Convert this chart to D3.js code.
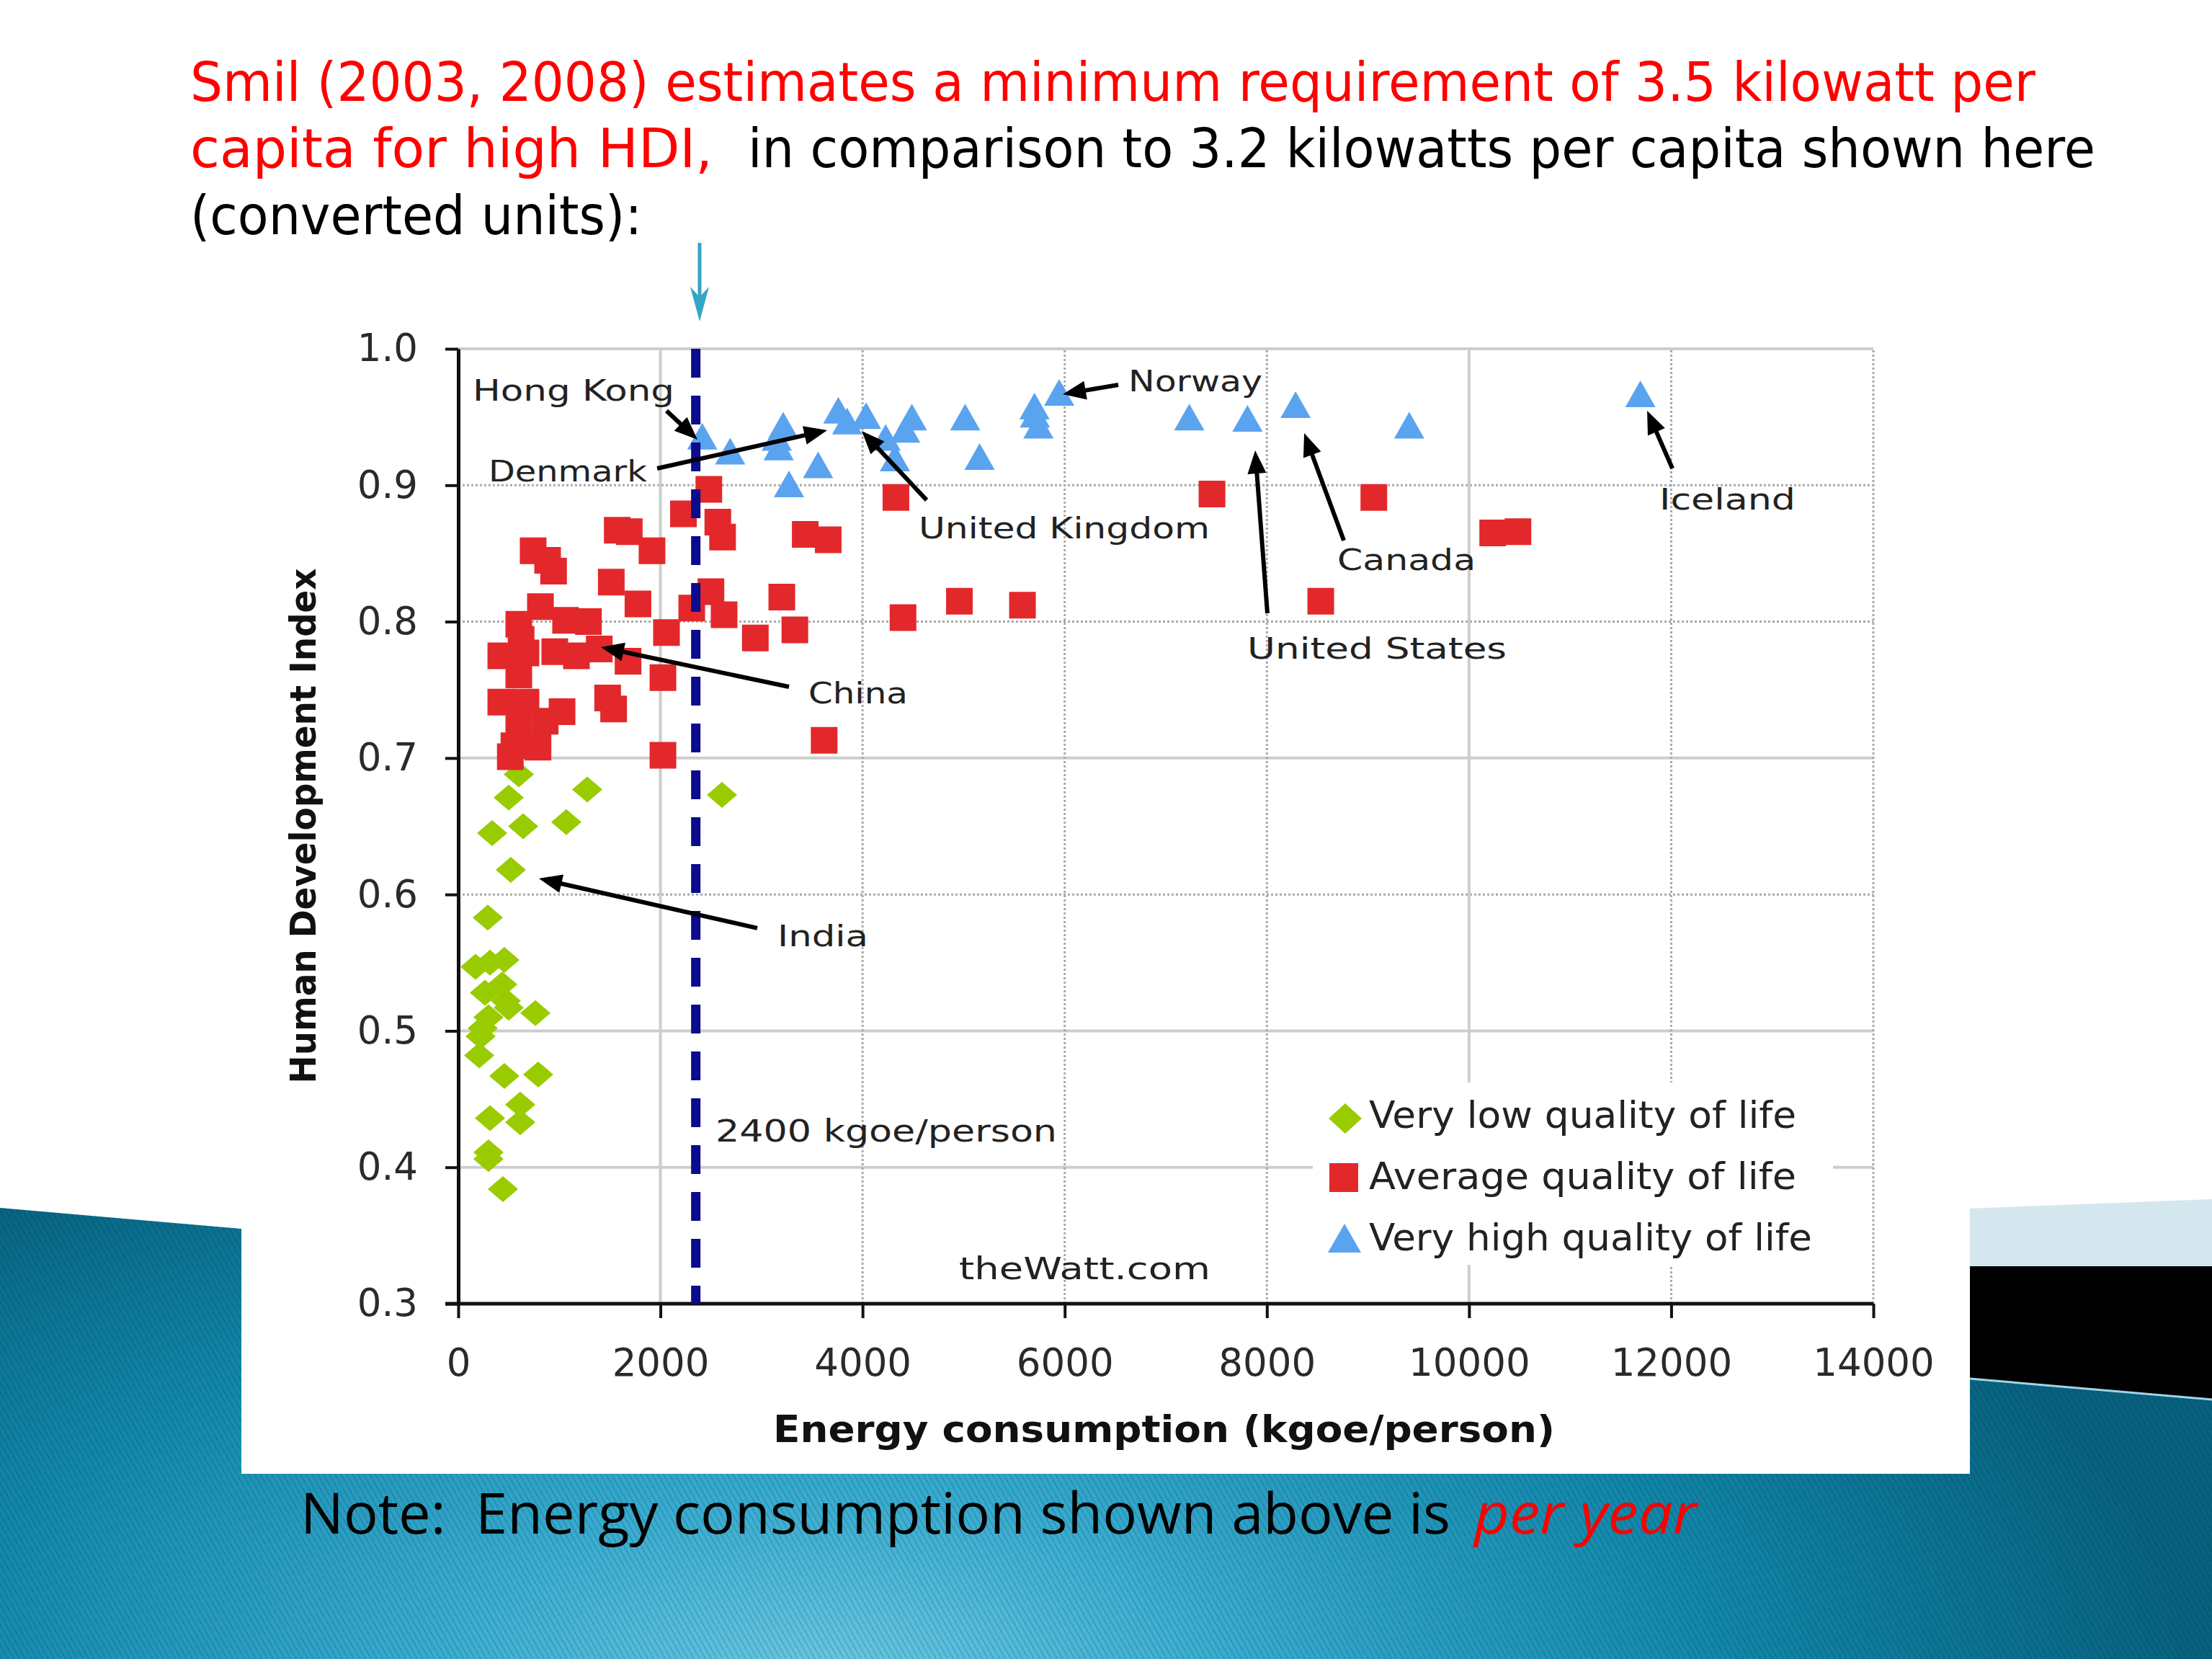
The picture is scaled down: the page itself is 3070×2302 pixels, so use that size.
<!DOCTYPE html>
<html><head><meta charset="utf-8">
<script src="https://cdn.jsdelivr.net/npm/d3@7"></script>
<style>html,body{margin:0;padding:0;background:#fff;overflow:hidden}svg{display:block}</style>
</head><body>
<svg id="c" width="3070" height="2302"></svg>
<script>
// ---------------- DATA ----------------
const xTicks = [0, 2000, 4000, 6000, 8000, 10000, 12000, 14000];
const yTicks = [0.3, 0.4, 0.5, 0.6, 0.7, 0.8, 0.9, 1.0];
const seriesNames = ["Very low quality of life", "Average quality of life", "Very high quality of life"];

// [energy kgoe/person, HDI]
const veryLow = [[599,0.688],[499,0.671],[1276,0.677],[335,0.645],[642,0.650],[1069,0.653],[2609,0.673],
  [520,0.618],[292,0.583],[171,0.547],[314,0.550],[456,0.552],[435,0.534],[264,0.528],[470,0.522],
  [499,0.517],[763,0.513],[299,0.510],[242,0.502],[221,0.496],[207,0.482],[456,0.467],[791,0.468],
  [613,0.446],[314,0.436],[613,0.433],[299,0.411],[299,0.406],[442,0.384]];

const average = [[2479,0.897],[2228,0.879],[2568,0.873],[2615,0.862],
  [1573,0.867],[1692,0.866],[1917,0.852],[741,0.852],[884,0.845],[943,0.837],
  [1514,0.829],[1778,0.813],[3201,0.818],[2500,0.822],[2310,0.810],[2630,0.805],[2939,0.788],[3330,0.794],[2060,0.792],
  [813,0.811],[1062,0.801],[1288,0.800],[1395,0.780],[1680,0.771],[2025,0.759],[1478,0.744],[1537,0.736],[2025,0.702],
  [599,0.798],[622,0.787],[421,0.775],[670,0.777],[955,0.778],[1169,0.775],[599,0.761],[421,0.741],[670,0.741],
  [1027,0.734],[599,0.726],[860,0.727],[551,0.709],[789,0.708],[515,0.701],
  [3433,0.864],[3660,0.860],[4330,0.891],[4400,0.803],[4958,0.815],[5582,0.812],[7457,0.8935],[8533,0.815],
  [9058,0.891],[10234,0.865],[10484,0.866],[3620,0.713]];

const veryHigh = [[2414,0.936],[2690,0.925],[3151,0.935],[3215,0.944],[3170,0.928],[3272,0.901],[3560,0.915],
  [3760,0.955],[3847,0.947],[4035,0.951],[4228,0.935],[4320,0.920],[4421,0.941],[4488,0.950],[5015,0.950],
  [5158,0.921],[5705,0.952],[5740,0.944],[5701,0.958],[5945,0.968],[7232,0.950],[7808,0.949],[8284,0.959],
  [9408,0.944],[11695,0.967]];

const thresholdValue = 2350;          // dashed reference line (labelled 2400 kgoe/person)
const thresholdLabel = "2400 kgoe/person";

// annotation labels: [text, energy, HDI] (left/baseline anchor, data units)
const labelTexts = ["Hong Kong","Denmark","United Kingdom","Norway","Canada","United States","Iceland","China","India"];
const labelAt = [[143,0.962],[299,0.903],[4555,0.861],[6630,0.969],[8697,0.838],[7806,0.773],[11883,0.882],[3464,0.740],[3158,0.562]];
// arrows: [from energy, from HDI, to energy, to HDI]
const arrowsData = [[2060,0.9546,2367,0.9334],[1968,0.9123,3650,0.9403],[4634,0.8891,3992,0.9398],
  [6530,0.9736,5981,0.9667],[8005,0.8061,7884,0.9255],[8761,0.8595,8369,0.9382],[12012,0.9123,11762,0.9546],
  [3272,0.7522,1411,0.7813],[2958,0.5753,798,0.6117]];

// ---------------- DRAW ----------------
const svg = d3.select("#c");
const defs = svg.append("defs");

const rg = defs.append("radialGradient").attr("id","bg").attr("gradientUnits","userSpaceOnUse")
  .attr("cx",1150).attr("cy",2330).attr("r",1900)
  .attr("gradientTransform","translate(1150,2330) scale(1,0.45) translate(-1150,-2330)");
[[0,"#6cc8e2"],[0.3,"#38abcf"],[0.65,"#1287aa"],[1,"#07617e"]].forEach(s=>rg.append("stop").attr("offset",s[0]).attr("stop-color",s[1]));

const pat = defs.append("pattern").attr("id","stripes").attr("patternUnits","userSpaceOnUse").attr("width",8).attr("height",14);
pat.append("path").attr("d","M0,0L8,14M-8,0L0,14M8,0L16,14").attr("stroke","rgba(0,35,55,0.2)").attr("stroke-width",1.6);

// slide decoration
svg.append("polygon").attr("points","2000,1705 3070,1664 3070,1757 2000,1757").attr("fill","#d5e7ee");
svg.append("polygon").attr("points","2000,1757 3070,1757 3070,1960 2000,1960").attr("fill","#000");
const tealPts = "0,1676 3070,1942 3070,2302 0,2302";
svg.append("polygon").attr("points",tealPts).attr("fill","url(#bg)");
svg.append("polygon").attr("points",tealPts).attr("fill","url(#stripes)");
svg.append("line").attr("x1",2734).attr("y1",1913).attr("x2",3070).attr("y2",1942).attr("stroke","#9fd6e8").attr("stroke-width",3);

// chart image white background
svg.append("rect").attr("x",335).attr("y",360).attr("width",2399).attr("height",1685).attr("fill","#fff");

// Title
const tFont = "'DejaVu Sans', 'Noto Sans', sans-serif";
const nFont = "'Open Sans', 'Noto Sans', sans-serif";
function ttext(str, x0, y0, len, color){
  return svg.append("text").attr("x",x0).attr("y",y0).attr("font-family",tFont).attr("font-size",74)
    .attr("fill",color).attr("textLength",len).attr("lengthAdjust","spacingAndGlyphs").style("white-space","pre").text(str);
}
ttext("Smil (2003, 2008) estimates a minimum requirement of 3.5 kilowatt per", 264, 140, 2561, "#ff0000");
ttext("capita for high HDI,", 264, 232, 725, "#ff0000");
ttext("in comparison to 3.2 kilowatts per capita shown here", 1038, 232, 1870, "#000");
ttext("(converted units):", 264, 325, 627, "#000");

// cyan arrow
svg.append("line").attr("x1",971).attr("y1",337).attr("x2",971).attr("y2",415).attr("stroke","#35a5c6").attr("stroke-width",5);
svg.append("path").attr("d","M958,398 L971,446 L984,398 L971,412 Z").attr("fill","#35a5c6");

// Note
svg.append("text").attr("x",417).attr("y",2128).attr("font-family",nFont).attr("font-size",78).attr("fill","#000")
  .attr("textLength",1596).attr("lengthAdjust","spacingAndGlyphs").style("white-space","pre")
  .text("Note:  Energy consumption shown above is");
svg.append("text").attr("x",2046).attr("y",2128).attr("font-family",nFont).attr("font-size",78).attr("fill","#ff0000")
  .attr("font-style","italic").attr("textLength",309).attr("lengthAdjust","spacingAndGlyphs").text("per year");

// scales
const x = d3.scaleLinear().domain([0,14000]).range([636,2600]);
const y = d3.scaleLinear().domain([0.3,1.0]).range([1809,484]);
const cFont = "'DejaVu Sans', Verdana, sans-serif";

// gridlines
const solidY = new Set([1.0,0.7,0.5,0.4]);
const solidX = new Set([2000,10000]);
const grid = svg.append("g");
yTicks.filter(d=>d>0.3).forEach(d=>{
  const s = solidY.has(d);
  grid.append("line").attr("x1",x(0)).attr("x2",x(14000)).attr("y1",y(d)).attr("y2",y(d))
    .attr("stroke",s?"#cdcdcd":"#a9a9a9").attr("stroke-width",s?4:3).attr("stroke-dasharray",s?null:"3,3");
});
xTicks.filter(d=>d>0).forEach(d=>{
  const s = solidX.has(d);
  grid.append("line").attr("y1",y(0.3)).attr("y2",y(1.0)).attr("x1",x(d)).attr("x2",x(d))
    .attr("stroke",s?"#cdcdcd":"#a9a9a9").attr("stroke-width",s?4:3).attr("stroke-dasharray",s?null:"3,3");
});

// legend box (white, hides grid)
svg.append("rect").attr("x",1822).attr("y",1502).attr("width",722).attr("height",253).attr("fill","#fff");

// axes
const yAxis = svg.append("g").attr("transform",`translate(${x(0)},0)`)
  .call(d3.axisLeft(y).tickValues(yTicks).tickSize(18).tickSizeOuter(0).tickPadding(38).tickFormat(d3.format(".1f")));
const xAxis = svg.append("g").attr("transform",`translate(0,${y(0.3)})`)
  .call(d3.axisBottom(x).tickValues(xTicks).tickSize(20).tickSizeOuter(0).tickPadding(42).tickFormat(d3.format("d")));
[yAxis,xAxis].forEach(a=>{
  a.select(".domain").attr("stroke","#111").attr("stroke-width",5);
  a.selectAll(".tick line").attr("stroke","#111").attr("stroke-width",4);
  a.selectAll(".tick text").attr("font-family",cFont).attr("font-size",53).attr("fill","#2a2a2a");
});
xAxis.select(".domain").attr("d",`M${x(0)-18},0H${x(14000)}`);

// axis titles
svg.append("text").attr("transform","translate(438,1146) rotate(-90)").attr("text-anchor","middle")
  .attr("font-family",cFont).attr("font-weight","bold").attr("font-size",50).attr("fill","#111")
  .attr("textLength",715).attr("lengthAdjust","spacingAndGlyphs").text("Human Development Index");
svg.append("text").attr("x",1073).attr("y",2001)
  .attr("font-family",cFont).attr("font-weight","bold").attr("font-size",52).attr("fill","#111")
  .attr("textLength",1085).attr("lengthAdjust","spacingAndGlyphs").text("Energy consumption (kgoe/person)");

// marker shapes
const diamond = (w,h)=>`M0,${-h/2}L${w/2},0L0,${h/2}L${-w/2},0Z`;
const square = s=>`M${-s/2},${-s/2}h${s}v${s}h${-s}Z`;
const triangle = (w,h)=>`M0,${-h/2}L${w/2},${h/2}L${-w/2},${h/2}Z`;
const colors = ["#99cc00","#e3282b","#5aa3ef"];

const marks = svg.append("g");
marks.selectAll(".g").data(veryLow).join("path").attr("d",diamond(42,36)).attr("fill",colors[0])
  .attr("transform",d=>`translate(${x(d[0])},${y(d[1])})`);
marks.selectAll(".r").data(average).join("path").attr("d",square(37)).attr("fill",colors[1])
  .attr("transform",d=>`translate(${x(d[0])},${y(d[1])})`);
marks.selectAll(".b").data(veryHigh).join("path").attr("d",triangle(42,37)).attr("fill",colors[2])
  .attr("transform",d=>`translate(${x(d[0])},${y(d[1])})`);

// dashed threshold line
svg.append("line").attr("x1",x(thresholdValue)).attr("x2",x(thresholdValue)).attr("y1",y(1.0)).attr("y2",y(0.3))
  .attr("stroke","#0b0b8c").attr("stroke-width",13).attr("stroke-dasharray","40,25");

// arrows
const ar = svg.append("g");
arrowsData.forEach(a=>{
  const x1=x(a[0]), y1=y(a[1]), x2=x(a[2]), y2=y(a[3]);
  const dx=x2-x1, dy=y2-y1, L=Math.hypot(dx,dy), ux=dx/L, uy=dy/L;
  const hl=32, hw=13;
  const bx=x2-ux*hl, by=y2-uy*hl;
  ar.append("line").attr("x1",x1).attr("y1",y1).attr("x2",bx+ux*4).attr("y2",by+uy*4).attr("stroke","#000").attr("stroke-width",6);
  ar.append("path").attr("d",`M${x2},${y2}L${bx-uy*hw},${by+ux*hw}L${bx+uy*hw},${by-ux*hw}Z`).attr("fill","#000");
});

// labels
const labelLens = [280,220,404,186,192,360,189,138,126];
labelTexts.forEach((t,i)=>{
  svg.append("text").attr("x",x(labelAt[i][0])).attr("y",y(labelAt[i][1]))
    .attr("font-family",cFont).attr("font-size",41).attr("fill","#222")
    .attr("textLength",labelLens[i]).attr("lengthAdjust","spacingAndGlyphs").text(t);
});
svg.append("text").attr("x",x(2545)).attr("y",y(0.419)).attr("font-family",cFont).attr("font-size",43).attr("fill","#222")
  .attr("textLength",474).attr("lengthAdjust","spacingAndGlyphs").text(thresholdLabel);
svg.append("text").attr("x",x(4954)).attr("y",y(0.318)).attr("font-family",cFont).attr("font-size",43).attr("fill","#222")
  .attr("textLength",349).attr("lengthAdjust","spacingAndGlyphs").text("theWatt.com");

// legend
const lg = svg.append("g");
const legendY = [1552,1634,1718];
const legendBase = [1565,1650,1735];
const legendLen = [593,593,615];
lg.append("path").attr("d",diamond(46,42)).attr("fill",colors[0]).attr("transform",`translate(1867,${legendY[0]})`);
lg.append("path").attr("d",square(40)).attr("fill",colors[1]).attr("transform",`translate(1865,${legendY[1]})`);
lg.append("path").attr("d",triangle(46,40)).attr("fill",colors[2]).attr("transform",`translate(1866,${legendY[2]})`);
seriesNames.forEach((n,i)=>{
  lg.append("text").attr("x",1900).attr("y",legendBase[i]).attr("font-family",cFont).attr("font-size",51).attr("fill","#222")
    .attr("textLength",legendLen[i]).attr("lengthAdjust","spacingAndGlyphs").text(n);
});
</script>
</body></html>
